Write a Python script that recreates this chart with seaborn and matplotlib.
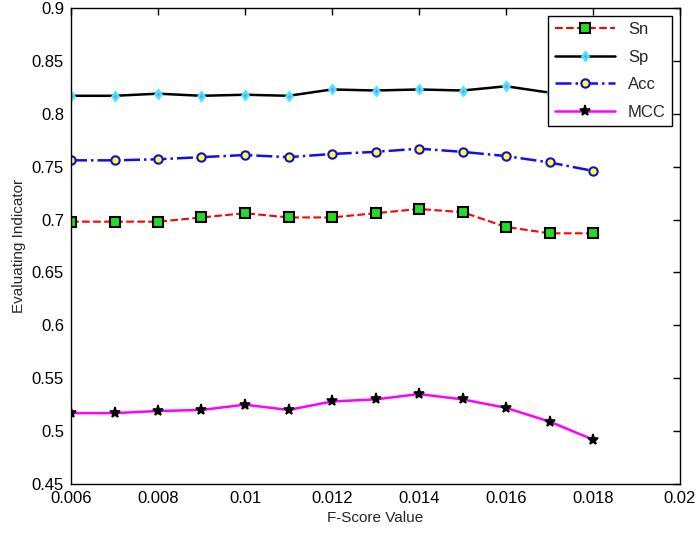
import matplotlib
matplotlib.use("Agg")
import matplotlib.pyplot as plt
import seaborn as sns

f_score = [0.006, 0.007, 0.008, 0.009, 0.010, 0.011, 0.012, 0.013, 0.014, 0.015, 0.016, 0.017, 0.018]
sn = [0.698, 0.698, 0.698, 0.702, 0.706, 0.702, 0.702, 0.706, 0.710, 0.707, 0.693, 0.687, 0.687]
sp = [0.817, 0.817, 0.819, 0.817, 0.818, 0.817, 0.823, 0.822, 0.823, 0.822, 0.826, 0.820, 0.819]
acc = [0.756, 0.756, 0.757, 0.759, 0.761, 0.759, 0.762, 0.764, 0.767, 0.764, 0.760, 0.754, 0.746]
mcc = [0.517, 0.517, 0.519, 0.520, 0.525, 0.520, 0.528, 0.530, 0.535, 0.530, 0.522, 0.509, 0.492]

sns.set_style("white")
plt.rcParams["font.family"] = ["Liberation Sans", "DejaVu Sans"]
plt.rcParams["xtick.direction"] = "in"
plt.rcParams["ytick.direction"] = "in"

fig = plt.figure(figsize=(7.0, 5.33), dpi=100)
ax = fig.add_axes([71 / 700, 1 - 484 / 533, (680 - 71) / 700, (484 - 8) / 533])

sns.lineplot(x=f_score, y=sn, ax=ax, color="red", linestyle="--", linewidth=1.5,
             marker="s", markersize=7, markerfacecolor="#22dd22", markeredgecolor="black",
             markeredgewidth=1.5, label="Sn")
sns.lineplot(x=f_score, y=sp, ax=ax, color="black", linestyle="-", linewidth=1.8,
             marker="d", markersize=4.5, markerfacecolor="#ff44ff", markeredgecolor="#33eeff",
             markeredgewidth=1.8, label="Sp")
sns.lineplot(x=f_score, y=acc, ax=ax, color="#1010ee", linestyle="-.", linewidth=1.8,
             marker="o", markersize=6, markerfacecolor="#ffff44", markeredgecolor="#1010cc",
             markeredgewidth=1.5, label="Acc")
sns.lineplot(x=f_score, y=mcc, ax=ax, color="magenta", linestyle="-", linewidth=1.8,
             marker="*", markersize=8, markerfacecolor="black", markeredgecolor="black",
             markeredgewidth=1.2, label="MCC")

ax.set_xlim(0.006, 0.02)
ax.set_ylim(0.45, 0.9)
ax.set_xticks([0.006, 0.008, 0.01, 0.012, 0.014, 0.016, 0.018, 0.02])
ax.set_xticklabels(["0.006", "0.008", "0.01", "0.012", "0.014", "0.016", "0.018", "0.02"])
ax.set_yticks([0.45, 0.5, 0.55, 0.6, 0.65, 0.7, 0.75, 0.8, 0.85, 0.9])
ax.set_yticklabels(["0.45", "0.5", "0.55", "0.6", "0.65", "0.7", "0.75", "0.8", "0.85", "0.9"])
ax.tick_params(axis="both", labelsize=12, length=5, width=1, top=True, right=True, colors="black")
ax.tick_params(axis="x", pad=5)
ax.tick_params(axis="y", pad=5)
for spine in ax.spines.values():
    spine.set_color("black")
    spine.set_linewidth(1)
ax.set_xlabel("F-Score Value", fontsize=11)
ax.set_ylabel("Evaluating Indicator", fontsize=11)

leg = ax.legend(loc="upper right", fontsize=12, handlelength=3.6, frameon=True,
                fancybox=False, framealpha=1, borderaxespad=0.45, labelspacing=0.75)
leg.get_frame().set_edgecolor("black")
leg.get_frame().set_linewidth(1)

fig.savefig("out.png", dpi=100, facecolor="white")
